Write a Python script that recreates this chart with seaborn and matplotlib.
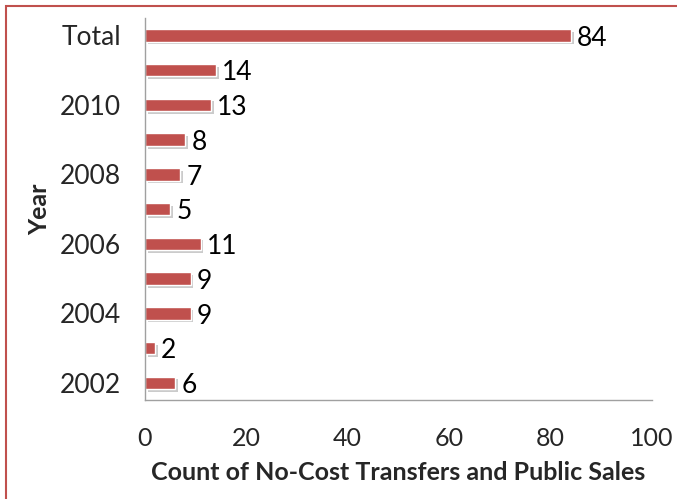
import matplotlib
matplotlib.use("Agg")
import matplotlib.pyplot as plt
import matplotlib.patheffects as pe
from matplotlib.patches import Rectangle
import seaborn as sns
import pandas as pd

categories = ["Total", "2011", "2010", "2009", "2008", "2007", "2006", "2005", "2004", "2003", "2002"]
values = [84, 14, 13, 8, 7, 5, 11, 9, 9, 2, 6]
tick_labels = ["Total", "", "2010", "", "2008", "", "2006", "", "2004", "", "2002"]
x_ticks = [0, 20, 40, 60, 80, 100]

sns.set_style("white")
plt.rcParams["font.family"] = ["Lato", "DejaVu Sans"]

df = pd.DataFrame({"Year": categories, "Count": values})

fig = plt.figure(figsize=(6.77, 4.99), dpi=100)
ax = fig.add_axes([0.214, 0.198, 0.749, 0.766])

sns.barplot(data=df, x="Count", y="Year", order=categories, orient="h",
            color="#C0504D", saturation=1, width=0.36, ax=ax)
for p in ax.patches:
    p.set_path_effects([pe.SimplePatchShadow(offset=(2, -2), shadow_rgbFace="#999999", alpha=0.5), pe.Normal()])

for i, v in enumerate(values):
    ax.text(v + 1.2, i + 0.08, str(v), va="center", ha="left", fontsize=19, color="black")

ax.set_xlim(0, 100)
ax.set_ylim(len(categories) - 0.5, -0.5)
ax.set_xticks(x_ticks)
ax.set_xticklabels([str(t) for t in x_ticks], fontsize=18)
ax.set_yticks(range(len(categories)))
ax.set_yticklabels(tick_labels, fontsize=19)
ax.tick_params(axis="y", which="major", length=0, pad=17)
ax.set_yticks([i + 0.5 for i in range(len(categories) - 1)] + [-0.5], minor=True)
ax.tick_params(axis="y", which="minor", length=7, color="#A0A0A0", direction="out")
ax.tick_params(axis="x", which="major", length=7, color="#A0A0A0", direction="out", pad=12)
ax.grid(False)

for s in ["top", "right"]:
    ax.spines[s].set_visible(False)
for s in ["left", "bottom"]:
    ax.spines[s].set_color("#A0A0A0")
    ax.spines[s].set_linewidth(1)

ax.set_xlabel("Count of No-Cost Transfers and Public Sales", fontsize=18, fontweight="bold", labelpad=8)
ax.set_ylabel("Year", fontsize=18, fontweight="bold")
ax.yaxis.set_label_coords(-0.185, 0.5)

fig.patches.append(Rectangle((0.009, -0.05), 1.1, 1.038, transform=fig.transFigure,
                             fill=False, edgecolor="#C0504D", linewidth=1.5, zorder=10))

fig.savefig("out.png", dpi=100)
